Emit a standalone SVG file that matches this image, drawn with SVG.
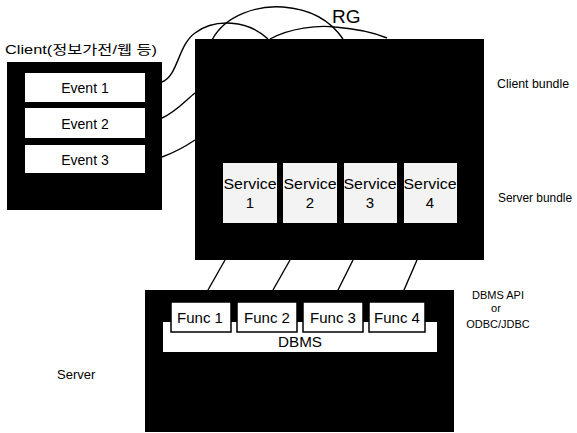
<svg xmlns="http://www.w3.org/2000/svg" width="577" height="433" viewBox="0 0 577 433">
<style>
.blk{fill:#000}
.wbox{fill:#fff}
.svc{fill:#f3f3f3}
.fn{fill:#fff;stroke:#000;stroke-width:1.5}
.t{font-family:"Liberation Sans","Noto Sans CJK KR",sans-serif;fill:#000}
.c{text-anchor:middle}
.ln{fill:none;stroke:#000;stroke-width:1.4}
</style>
<rect width="577" height="433" fill="#fff"/>

<g id="client">
  <text class="t" x="5" y="54" font-size="13" textLength="152" lengthAdjust="spacingAndGlyphs">Client(정보가전/웹 등)</text>
  <rect class="blk" x="7" y="62" width="155" height="148"/>
</g>
<g id="event1"><rect class="wbox" x="25" y="73" width="120" height="29"/><text class="t c" x="85" y="93" font-size="14">Event 1</text></g>
<g id="event2"><rect class="wbox" x="25" y="108" width="120" height="30"/><text class="t c" x="85" y="129" font-size="14">Event 2</text></g>
<g id="event3"><rect class="wbox" x="25" y="145" width="120" height="28"/><text class="t c" x="85" y="165" font-size="14">Event 3</text></g>

<g id="bundle">
  <rect class="blk" x="195" y="39" width="289" height="221"/>
  <text class="t" x="497" y="88" font-size="12" textLength="72" lengthAdjust="spacingAndGlyphs">Client bundle</text>
  <text class="t" x="498" y="202" font-size="12" textLength="74" lengthAdjust="spacingAndGlyphs">Server bundle</text>
</g>
<g id="service1"><rect class="svc" x="223" y="163" width="54" height="60"/><text class="t c" x="250" y="189" font-size="15" textLength="53" lengthAdjust="spacingAndGlyphs">Service</text><text class="t c" x="250" y="208" font-size="15">1</text></g>
<g id="service2"><rect class="svc" x="283" y="163" width="54" height="60"/><text class="t c" x="310" y="189" font-size="15" textLength="53" lengthAdjust="spacingAndGlyphs">Service</text><text class="t c" x="310" y="208" font-size="15">2</text></g>
<g id="service3"><rect class="svc" x="344" y="163" width="53" height="60"/><text class="t c" x="370" y="189" font-size="15" textLength="53" lengthAdjust="spacingAndGlyphs">Service</text><text class="t c" x="370" y="208" font-size="15">3</text></g>
<g id="service4"><rect class="svc" x="404" y="163" width="53" height="60"/><text class="t c" x="430" y="189" font-size="15" textLength="53" lengthAdjust="spacingAndGlyphs">Service</text><text class="t c" x="430" y="208" font-size="15">4</text></g>

<g id="server">
  <rect class="blk" x="145" y="290" width="309" height="142"/>
  <text class="t" x="57" y="379" font-size="13">Server</text>
  <text class="t c" x="498" y="299" font-size="11">DBMS API</text>
  <text class="t c" x="496" y="312" font-size="11">or</text>
  <text class="t c" x="498" y="328" font-size="11">ODBC/JDBC</text>
</g>
<g id="dbms"><rect class="wbox" x="163" y="322" width="274" height="30"/><text class="t c" x="300" y="347" font-size="14" textLength="44" lengthAdjust="spacingAndGlyphs">DBMS</text></g>
<g id="func1"><rect class="fn" x="171" y="302" width="60" height="30"/><text class="t c" x="200" y="323" font-size="15">Func 1</text></g>
<g id="func2"><rect class="fn" x="237" y="302" width="60" height="30"/><text class="t c" x="267" y="323" font-size="15">Func 2</text></g>
<g id="func3"><rect class="fn" x="303" y="302" width="60" height="30"/><text class="t c" x="333" y="323" font-size="15">Func 3</text></g>
<g id="func4"><rect class="fn" x="369" y="302" width="56" height="30"/><text class="t c" x="397" y="323" font-size="15">Func 4</text></g>

<g id="connectors">
  <path class="ln" d="M162,82 C178,76 178,45 195,33 C215,18 248,20 268,39"/>
  <path class="ln" d="M212,40 C225,15 258,5 283,7 C310,9 330,20 343,39"/>
  <path class="ln" d="M270,39 C290,28 318,25 335,27 C360,29 375,33 387,38"/>
  <path class="ln" d="M162,118 C176,112 186,100 195,93"/>
  <path class="ln" d="M162,157 C176,152 186,146 195,140"/>
  <path class="ln" d="M225,260 L208,290"/>
  <path class="ln" d="M290,260 L273,290"/>
  <path class="ln" d="M353,260 L338,290"/>
  <path class="ln" d="M417,260 L404,290"/>
</g>
<text class="t" x="332" y="23" font-size="19">RG</text>
</svg>
